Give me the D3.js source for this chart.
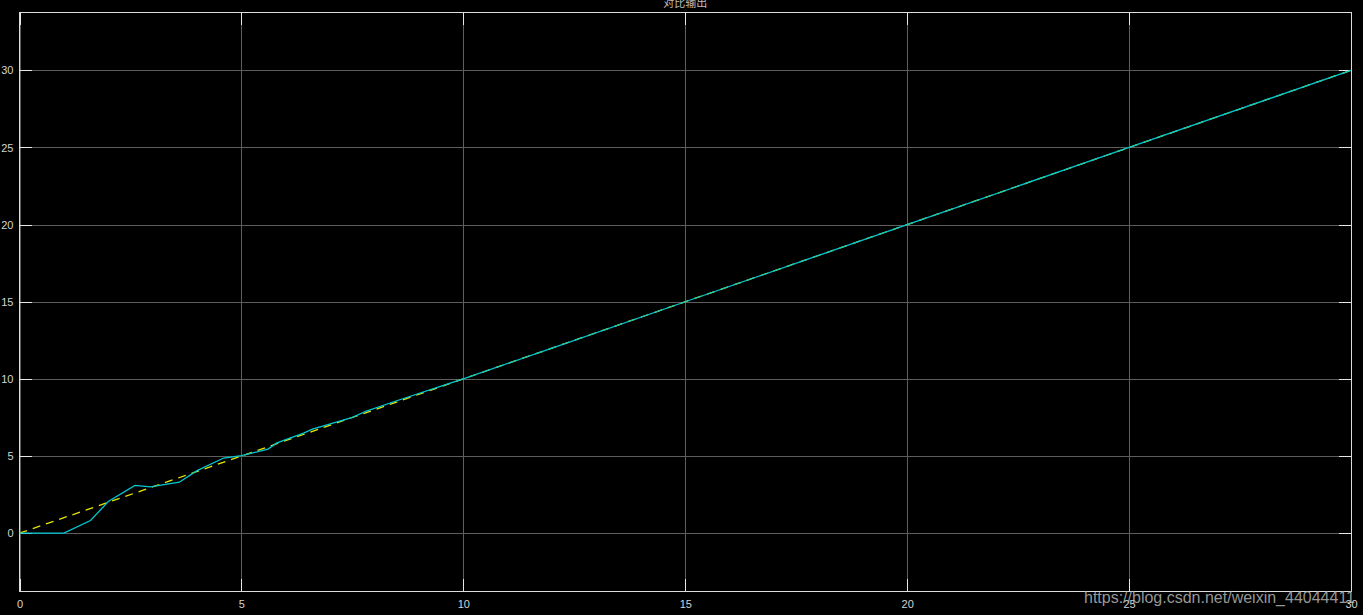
<!DOCTYPE html>
<html>
<head>
<meta charset="utf-8" />
<script src="https://d3js.org/d3.v7.min.js"></script>
<style>
  body { margin: 0; background: #000; }
  .tick text { fill: #d4d4d4; font: 11px "Liberation Sans", Arial, sans-serif; }
  .grid line { stroke: #5e5e5e; stroke-width: 1; shape-rendering: crispEdges; }
  .grid path { display: none; }
  .ticks path { display: none; }
  .ticks line { stroke: #e8e8e8; shape-rendering: crispEdges; }
  .line { fill: none; stroke-width: 1.3px; }
</style>
</head>
<body>
<svg width="1363" height="615"></svg>
<script>
// reference ramp (yellow dashed)
var refT = [0, 30];
var refY = [0, 30];

// system output (cyan)
var outT = [0, 1.0, 1.6, 2.0, 2.6, 2.95, 3.6, 4.0, 4.6, 5.0, 5.6, 5.8, 6.4, 6.6, 6.85, 7.5, 7.8, 8.6, 9.55, 10, 12, 15, 20, 25, 30];
var outY = [0, 0, 0.82, 2.05, 3.1, 3.0, 3.3, 4.05, 4.87, 5.02, 5.45, 5.85, 6.48, 6.74, 6.95, 7.5, 7.9, 8.68, 9.58, 10.0, 12, 15, 20, 25, 30];

var xTicks = [0, 5, 10, 15, 20, 25, 30];
var yTicks = [0, 5, 10, 15, 20, 25, 30];

var svg = d3.select("svg"),
    margin = {top: 12.5, right: 12, bottom: 24, left: 19.5},
    width = +svg.attr("width") - margin.left - margin.right,
    height = +svg.attr("height") - margin.top - margin.bottom;

svg.append("rect")
  .attr("width", "100%")
  .attr("height", "100%")
  .attr("fill", "#000");

var x = d3.scaleLinear().domain([0, 30]).range([0, width]),
    y = d3.scaleLinear().domain([-3.75, 33.75]).range([height, 0]);

var g = svg.append("g")
  .attr("transform", "translate(" + margin.left + "," + margin.top + ")");

// grid
g.append("g")
  .attr("class", "grid")
  .attr("transform", "translate(0," + height + ")")
  .call(d3.axisBottom(x).tickValues(xTicks).tickSize(-height).tickFormat(""));

g.append("g")
  .attr("class", "grid")
  .call(d3.axisLeft(y).tickValues(yTicks).tickSize(-width).tickFormat(""));

// inward ticks with labels
g.append("g")
  .attr("class", "ticks")
  .attr("transform", "translate(0," + height + ")")
  .call(d3.axisBottom(x).tickValues(xTicks).tickSize(-12).tickPadding(9));

g.append("g")
  .attr("class", "ticks")
  .call(d3.axisLeft(y).tickValues(yTicks).tickSize(-12).tickPadding(6));

g.append("g")
  .attr("class", "ticks")
  .attr("transform", "translate(" + width + ",0)")
  .call(d3.axisRight(y).tickValues(yTicks).tickSize(-12).tickFormat(""));

g.append("g")
  .attr("class", "ticks")
  .call(d3.axisTop(x).tickValues(xTicks).tickSize(-12).tickFormat(""));

// axes box
g.append("rect")
  .attr("width", width)
  .attr("height", height)
  .attr("fill", "none")
  .attr("stroke", "#dcdcdc")
  .attr("stroke-width", 1)
  .attr("shape-rendering", "crispEdges");

var line = d3.line()
  .x(function(d) { return x(d[0]); })
  .y(function(d) { return y(d[1]); });

g.append("path")
  .attr("class", "line")
  .attr("d", line(d3.zip(refT, refY)))
  .style("stroke", "#e6e600")
  .style("stroke-dasharray", "8,6");

g.append("path")
  .attr("class", "line")
  .attr("d", line(d3.zip(outT, outY)))
  .style("stroke", "#00c8d2");

// title, half cut by the top edge
svg.append("text")
  .attr("x", margin.left + width / 2)
  .attr("y", 7)
  .attr("text-anchor", "middle")
  .style("font", "11px 'Noto Sans CJK SC', sans-serif")
  .style("fill", "#bdbdbd")
  .text("对比输出");

// watermark
svg.append("text")
  .attr("x", 1355)
  .attr("y", 603)
  .attr("text-anchor", "end")
  .style("font", "16px 'Liberation Sans', Arial, sans-serif")
  .style("fill", "#b4b4b4")
  .style("fill-opacity", 0.85)
  .text("https://blog.csdn.net/weixin_44044411");
</script>
</body>
</html>
